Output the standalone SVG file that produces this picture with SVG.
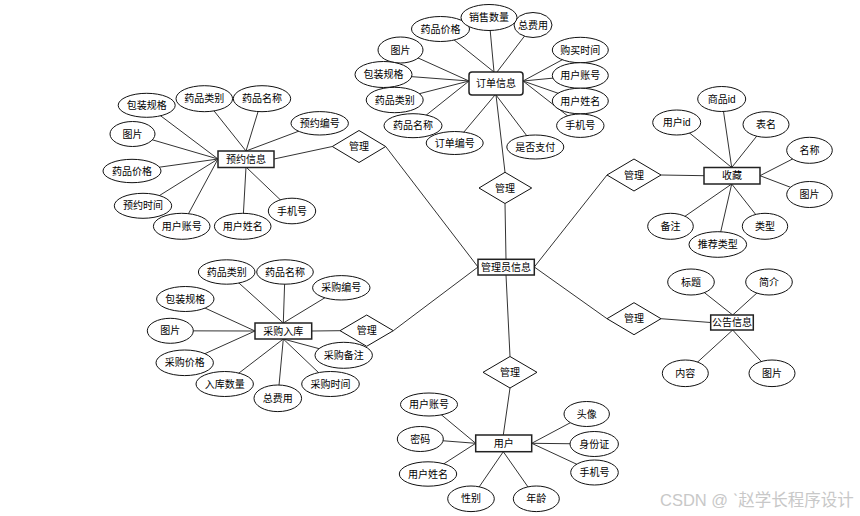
<svg xmlns="http://www.w3.org/2000/svg" width="860" height="516" viewBox="0 0 860 516">
<style>
.bg{fill:#fff}
.ln{stroke:#333;stroke-width:1;fill:none}
.at{fill:#fff;stroke:#111;stroke-width:1}
.en{fill:#fff;stroke:#222;stroke-width:1.5}
.rl{fill:#fff;stroke:#111;stroke-width:1}
text{font-family:"Liberation Sans","Noto Sans CJK SC",sans-serif;font-size:10px;fill:#000;text-anchor:middle;dominant-baseline:central}
.wm{font-family:"Liberation Sans","Noto Sans CJK SC",sans-serif;font-size:16.5px;fill:#c8c8c8;text-anchor:start;dominant-baseline:alphabetic}
</style>
<rect class="bg" x="0" y="0" width="860" height="516"/>
<g id="connectors" class="ln">
<line x1="494" y1="72" x2="440.5" y2="29"/>
<line x1="494" y1="72" x2="489" y2="17.5"/>
<line x1="497" y1="72" x2="533" y2="25"/>
<line x1="469" y1="81" x2="400.5" y2="50"/>
<line x1="469" y1="81" x2="383.5" y2="74.5"/>
<line x1="469" y1="81" x2="394.7" y2="100"/>
<line x1="469" y1="81" x2="413" y2="125.7"/>
<line x1="495" y1="95" x2="454.7" y2="143"/>
<line x1="496" y1="95" x2="535.3" y2="147"/>
<line x1="523" y1="81" x2="580.3" y2="50"/>
<line x1="523" y1="81" x2="580.3" y2="75.5"/>
<line x1="523" y1="81" x2="580.3" y2="101"/>
<line x1="523" y1="81" x2="580.3" y2="125.7"/>
<line x1="496" y1="95" x2="505" y2="172.3"/>
<line x1="505" y1="203.5" x2="506" y2="259.3"/>
<line x1="218" y1="159" x2="146.7" y2="105.3"/>
<line x1="246" y1="151" x2="204.3" y2="98.7"/>
<line x1="246" y1="151" x2="262" y2="98.7"/>
<line x1="246" y1="151" x2="319.7" y2="123.3"/>
<line x1="218" y1="159" x2="132.5" y2="134"/>
<line x1="218" y1="159" x2="132" y2="171"/>
<line x1="218" y1="159" x2="143" y2="205.8"/>
<line x1="218" y1="159" x2="181.7" y2="226.3"/>
<line x1="246" y1="167" x2="242.7" y2="226.3"/>
<line x1="246" y1="167" x2="292" y2="211"/>
<line x1="274" y1="159" x2="332.3" y2="146.5"/>
<line x1="385.7" y1="146.5" x2="478" y2="267"/>
<line x1="731.7" y1="167.5" x2="721.7" y2="99"/>
<line x1="731.7" y1="167.5" x2="676.7" y2="122.5"/>
<line x1="731.7" y1="167.5" x2="766" y2="124.5"/>
<line x1="760" y1="175.7" x2="809.5" y2="150.3"/>
<line x1="760" y1="175.7" x2="809.5" y2="194.5"/>
<line x1="731.7" y1="184" x2="765" y2="226.3"/>
<line x1="731.7" y1="184" x2="717.8" y2="244.5"/>
<line x1="731.7" y1="184" x2="670.5" y2="226.3"/>
<line x1="704" y1="175.7" x2="661" y2="175"/>
<line x1="607" y1="175" x2="534.3" y2="267"/>
<line x1="283.3" y1="323" x2="226.7" y2="272"/>
<line x1="283.3" y1="323" x2="285" y2="272"/>
<line x1="283.3" y1="323" x2="341.3" y2="287.8"/>
<line x1="255" y1="331" x2="185.3" y2="299"/>
<line x1="255" y1="331" x2="170.3" y2="330.8"/>
<line x1="255" y1="331" x2="184.7" y2="362.8"/>
<line x1="283.3" y1="339" x2="224.7" y2="384"/>
<line x1="283.3" y1="339" x2="277.8" y2="398.3"/>
<line x1="283.3" y1="339" x2="330.5" y2="384"/>
<line x1="283.3" y1="339" x2="343.7" y2="355.3"/>
<line x1="311.7" y1="331" x2="340" y2="330.7"/>
<line x1="393.3" y1="330.7" x2="478" y2="267"/>
<line x1="732.7" y1="315" x2="691" y2="282"/>
<line x1="732.7" y1="315" x2="769" y2="282"/>
<line x1="732.7" y1="330" x2="685.3" y2="373.3"/>
<line x1="732.7" y1="330" x2="772" y2="373.3"/>
<line x1="710.7" y1="322.5" x2="661" y2="318.7"/>
<line x1="607" y1="318.7" x2="534.3" y2="267"/>
<line x1="506" y1="275" x2="510" y2="356.5"/>
<line x1="510" y1="388" x2="503.3" y2="435"/>
<line x1="475.7" y1="443.3" x2="429" y2="404.5"/>
<line x1="475.7" y1="443.3" x2="420.3" y2="439"/>
<line x1="475.7" y1="443.3" x2="428" y2="474"/>
<line x1="503.3" y1="451.7" x2="471" y2="498.8"/>
<line x1="503.3" y1="451.7" x2="536.3" y2="498.8"/>
<line x1="531.7" y1="443.3" x2="586.7" y2="414"/>
<line x1="531.7" y1="443.3" x2="594.2" y2="444"/>
<line x1="531.7" y1="443.3" x2="594.5" y2="472.5"/>
</g>

<g id="admin"><rect class="en" x="478" y="259.3" width="56.3" height="15.7"/><text x="506" y="267.2">管理员信息</text></g>

<g id="rel-order"><polygon class="rl" points="479,188 505,172.3 531.7,188 505,203.5"/><text x="505" y="188">管理</text></g>
<g id="rel-booking"><polygon class="rl" points="332.3,146.5 359,130.5 385.7,146.5 359,162.5"/><text x="359" y="146.5">管理</text></g>
<g id="rel-fav"><polygon class="rl" points="607,175 634,159 661,175 634,191"/><text x="634" y="175">管理</text></g>
<g id="rel-purchase"><polygon class="rl" points="340,330.7 366.7,315 393.3,330.7 366.7,346.3"/><text x="366.7" y="330.7">管理</text></g>
<g id="rel-notice"><polygon class="rl" points="607,318.7 634,302.7 661,318.7 634,334.7"/><text x="634" y="318.7">管理</text></g>
<g id="rel-user"><polygon class="rl" points="483,372.3 510,356.5 537,372.3 510,388"/><text x="510" y="372.3">管理</text></g>

<g id="order"><rect class="en" x="469" y="72" width="54" height="23" rx="3"/><text x="496" y="83.5">订单信息</text></g>
<g id="order-attrs">
<g id="o-price"><ellipse class="at" cx="440.5" cy="29" rx="29" ry="12.5"/><text x="440.5" y="29">药品价格</text></g>
<g id="o-total"><ellipse class="at" cx="533" cy="25" rx="19" ry="12.5"/><text x="533" y="25">总费用</text></g>
<g id="o-qty"><ellipse class="at" cx="489" cy="17.5" rx="28" ry="13"/><text x="489" y="17.5">销售数量</text></g>
<g id="o-img"><ellipse class="at" cx="400.5" cy="50" rx="22.5" ry="13"/><text x="400.5" y="50">图片</text></g>
<g id="o-pack"><ellipse class="at" cx="383.5" cy="74.5" rx="28.5" ry="13"/><text x="383.5" y="74.5">包装规格</text></g>
<g id="o-cat"><ellipse class="at" cx="394.7" cy="100" rx="28.5" ry="12.7"/><text x="394.7" y="100">药品类别</text></g>
<g id="o-name"><ellipse class="at" cx="413" cy="125.7" rx="29" ry="12"/><text x="413" y="125.7">药品名称</text></g>
<g id="o-no"><ellipse class="at" cx="454.7" cy="143" rx="28.5" ry="11.5"/><text x="454.7" y="143">订单编号</text></g>
<g id="o-paid"><ellipse class="at" cx="535.3" cy="147" rx="28.5" ry="12"/><text x="535.3" y="147">是否支付</text></g>
<g id="o-time"><ellipse class="at" cx="580.3" cy="50" rx="28" ry="12.7"/><text x="580.3" y="50">购买时间</text></g>
<g id="o-acc"><ellipse class="at" cx="580.3" cy="75.5" rx="28" ry="12.8"/><text x="580.3" y="75.5">用户账号</text></g>
<g id="o-uname"><ellipse class="at" cx="580.3" cy="101" rx="28" ry="12.8"/><text x="580.3" y="101">用户姓名</text></g>
<g id="o-phone"><ellipse class="at" cx="580.3" cy="125.7" rx="23.7" ry="11.7"/><text x="580.3" y="125.7">手机号</text></g>
</g>

<g id="booking"><rect class="en" x="218" y="151" width="56" height="16.5"/><text x="246" y="159.2">预约信息</text></g>
<g id="booking-attrs">
<g id="b-pack"><ellipse class="at" cx="146.7" cy="105.3" rx="28.5" ry="12"/><text x="146.7" y="105.3">包装规格</text></g>
<g id="b-cat"><ellipse class="at" cx="204.3" cy="98.7" rx="28.3" ry="13"/><text x="204.3" y="98.7">药品类别</text></g>
<g id="b-name"><ellipse class="at" cx="262" cy="98.7" rx="28.7" ry="13"/><text x="262" y="98.7">药品名称</text></g>
<g id="b-no"><ellipse class="at" cx="319.7" cy="123.3" rx="28.7" ry="11.7"/><text x="319.7" y="123.3">预约编号</text></g>
<g id="b-img"><ellipse class="at" cx="132.5" cy="134" rx="22.5" ry="12.5"/><text x="132.5" y="134">图片</text></g>
<g id="b-price"><ellipse class="at" cx="132" cy="171" rx="29" ry="11.7"/><text x="132" y="171">药品价格</text></g>
<g id="b-time"><ellipse class="at" cx="143" cy="205.8" rx="28.7" ry="12.5"/><text x="143" y="205.8">预约时间</text></g>
<g id="b-acc"><ellipse class="at" cx="181.7" cy="226.3" rx="28.3" ry="13"/><text x="181.7" y="226.3">用户账号</text></g>
<g id="b-uname"><ellipse class="at" cx="242.7" cy="226.3" rx="28.3" ry="13"/><text x="242.7" y="226.3">用户姓名</text></g>
<g id="b-phone"><ellipse class="at" cx="292" cy="211" rx="23.7" ry="12.8"/><text x="292" y="211">手机号</text></g>
</g>

<g id="favorite"><rect class="en" x="704" y="167.5" width="56" height="16.5"/><text x="732" y="175.8">收藏</text></g>
<g id="favorite-attrs">
<g id="f-gid"><ellipse class="at" cx="721.7" cy="99" rx="24" ry="12.5"/><text x="721.7" y="99">商品id</text></g>
<g id="f-uid"><ellipse class="at" cx="676.7" cy="122.5" rx="24" ry="12.5"/><text x="676.7" y="122.5">用户id</text></g>
<g id="f-table"><ellipse class="at" cx="766" cy="124.5" rx="23" ry="12.8"/><text x="766" y="124.5">表名</text></g>
<g id="f-name"><ellipse class="at" cx="809.5" cy="150.3" rx="22.8" ry="13"/><text x="809.5" y="150.3">名称</text></g>
<g id="f-img"><ellipse class="at" cx="809.5" cy="194.5" rx="22.8" ry="13"/><text x="809.5" y="194.5">图片</text></g>
<g id="f-type"><ellipse class="at" cx="765" cy="226.3" rx="22.7" ry="13"/><text x="765" y="226.3">类型</text></g>
<g id="f-rec"><ellipse class="at" cx="717.8" cy="244.5" rx="28.8" ry="12.8"/><text x="717.8" y="244.5">推荐类型</text></g>
<g id="f-note"><ellipse class="at" cx="670.5" cy="226.3" rx="22.8" ry="13"/><text x="670.5" y="226.3">备注</text></g>
</g>

<g id="purchase"><rect class="en" x="255" y="323" width="56.7" height="16"/><text x="283.3" y="331">采购入库</text></g>
<g id="purchase-attrs">
<g id="p-cat"><ellipse class="at" cx="226.7" cy="272" rx="28.3" ry="12.2"/><text x="226.7" y="272">药品类别</text></g>
<g id="p-name"><ellipse class="at" cx="285" cy="272" rx="28.3" ry="12.2"/><text x="285" y="272">药品名称</text></g>
<g id="p-no"><ellipse class="at" cx="341.3" cy="287.8" rx="28.7" ry="12.2"/><text x="341.3" y="287.8">采购编号</text></g>
<g id="p-pack"><ellipse class="at" cx="185.3" cy="299" rx="28.7" ry="12.5"/><text x="185.3" y="299">包装规格</text></g>
<g id="p-img"><ellipse class="at" cx="170.3" cy="330.8" rx="23" ry="12.5"/><text x="170.3" y="330.8">图片</text></g>
<g id="p-price"><ellipse class="at" cx="184.7" cy="362.8" rx="28.7" ry="12.8"/><text x="184.7" y="362.8">采购价格</text></g>
<g id="p-qty"><ellipse class="at" cx="224.7" cy="384" rx="28.7" ry="12.5"/><text x="224.7" y="384">入库数量</text></g>
<g id="p-total"><ellipse class="at" cx="277.8" cy="398.3" rx="23.8" ry="13.3"/><text x="277.8" y="398.3">总费用</text></g>
<g id="p-time"><ellipse class="at" cx="330.5" cy="384" rx="28.8" ry="12.5"/><text x="330.5" y="384">采购时间</text></g>
<g id="p-note"><ellipse class="at" cx="343.7" cy="355.3" rx="28.7" ry="13"/><text x="343.7" y="355.3">采购备注</text></g>
</g>

<g id="notice"><rect class="en" x="710.7" y="315" width="42.6" height="15"/><text x="732" y="322.6">公告信息</text></g>
<g id="notice-attrs">
<g id="n-title"><ellipse class="at" cx="691" cy="282" rx="23.3" ry="13"/><text x="691" y="282">标题</text></g>
<g id="n-intro"><ellipse class="at" cx="769" cy="282" rx="23.3" ry="13"/><text x="769" y="282">简介</text></g>
<g id="n-content"><ellipse class="at" cx="685.3" cy="373.3" rx="23" ry="13.3"/><text x="685.3" y="373.3">内容</text></g>
<g id="n-img"><ellipse class="at" cx="772" cy="373.3" rx="23" ry="13.3"/><text x="772" y="373.3">图片</text></g>
</g>

<g id="user"><rect class="en" x="475.7" y="435" width="56" height="16.7"/><text x="503.7" y="443.4">用户</text></g>
<g id="user-attrs">
<g id="u-acc"><ellipse class="at" cx="429" cy="404.5" rx="28.5" ry="11.5"/><text x="429" y="404.5">用户账号</text></g>
<g id="u-pwd"><ellipse class="at" cx="420.3" cy="439" rx="23" ry="12.5"/><text x="420.3" y="439">密码</text></g>
<g id="u-name"><ellipse class="at" cx="428" cy="474" rx="28.7" ry="12.2"/><text x="428" y="474">用户姓名</text></g>
<g id="u-sex"><ellipse class="at" cx="471" cy="498.8" rx="23.3" ry="12.8"/><text x="471" y="498.8">性别</text></g>
<g id="u-age"><ellipse class="at" cx="536.3" cy="498.8" rx="23" ry="12.8"/><text x="536.3" y="498.8">年龄</text></g>
<g id="u-avatar"><ellipse class="at" cx="586.7" cy="414" rx="22.7" ry="12.5"/><text x="586.7" y="414">头像</text></g>
<g id="u-id"><ellipse class="at" cx="594.2" cy="444" rx="24.2" ry="12.5"/><text x="594.2" y="444">身份证</text></g>
<g id="u-phone"><ellipse class="at" cx="594.5" cy="472.5" rx="23.8" ry="12.5"/><text x="594.5" y="472.5">手机号</text></g>
</g>

<text class="wm" x="660" y="506">CSDN @ ˋ赵学长程序设计</text>
</svg>
